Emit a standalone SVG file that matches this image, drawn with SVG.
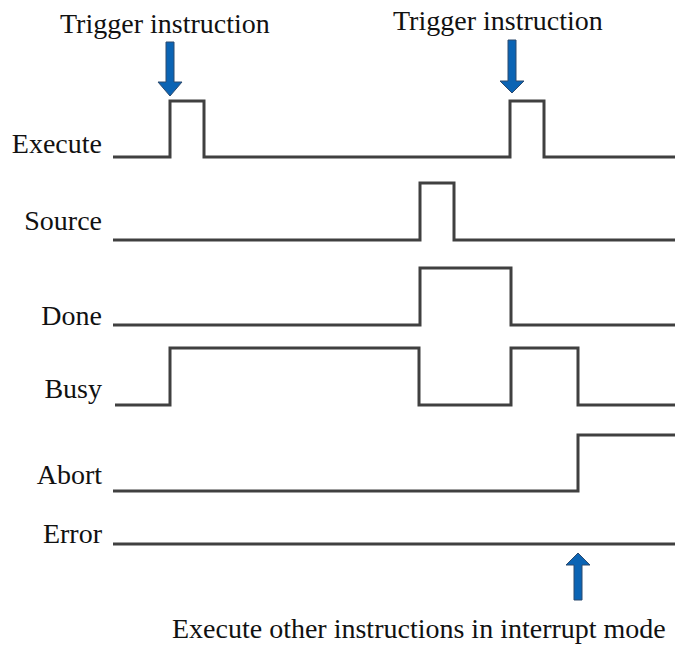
<svg xmlns="http://www.w3.org/2000/svg" width="675" height="646" viewBox="0 0 675 646">
<style>
text{font-family:"Liberation Serif","Times New Roman",serif;font-size:28px;fill:#111}
.lbl{text-anchor:end}
.sig{fill:none;stroke:#404040;stroke-width:3;stroke-linejoin:miter}
.arr{fill:#0b64b4;stroke:#2c4a6e;stroke-width:1}
</style>
<rect width="675" height="646" fill="#fff"/>
<g id="label-trigger1"><text x="60" y="33">Trigger instruction</text></g>
<g id="label-trigger2"><text x="393" y="30">Trigger instruction</text></g>
<g id="execute"><text class="lbl" x="102" y="153">Execute</text></g>
<g id="source"><text class="lbl" x="102" y="230">Source</text></g>
<g id="done"><text class="lbl" x="102" y="325">Done</text></g>
<g id="busy"><text class="lbl" x="102" y="398">Busy</text></g>
<g id="abort"><text class="lbl" x="102" y="484">Abort</text></g>
<g id="error"><text class="lbl" x="102" y="543">Error</text></g>
<g id="label-interrupt"><text x="172" y="638">Execute other instructions in interrupt mode</text></g>
<g id="signals">
<path class="sig" d="M113 157 H170 V101 H204 V157 H510 V101 H544 V157 H675"/>
<path class="sig" d="M113 240 H420 V183 H454 V240 H675"/>
<path class="sig" d="M113 325 H420 V268 H511 V325 H675"/>
<path class="sig" d="M115 405 H170 V348 H419 V405 H511 V348 H578 V405 H675"/>
<path class="sig" d="M113 491 H578 V435 H675"/>
<path class="sig" d="M113 544 H675"/>
</g>
<g id="connectors">
<polygon class="arr" points="166,42 174,42 174,82 182,82 170,96 158,82 166,82"/>
<polygon class="arr" points="508,40 516,40 516,81 524,81 512,93 500,81 508,81"/>
<polygon class="arr" points="574,600 582,600 582,565 590,565 578,553 566,565 574,565"/>
</g>
</svg>
